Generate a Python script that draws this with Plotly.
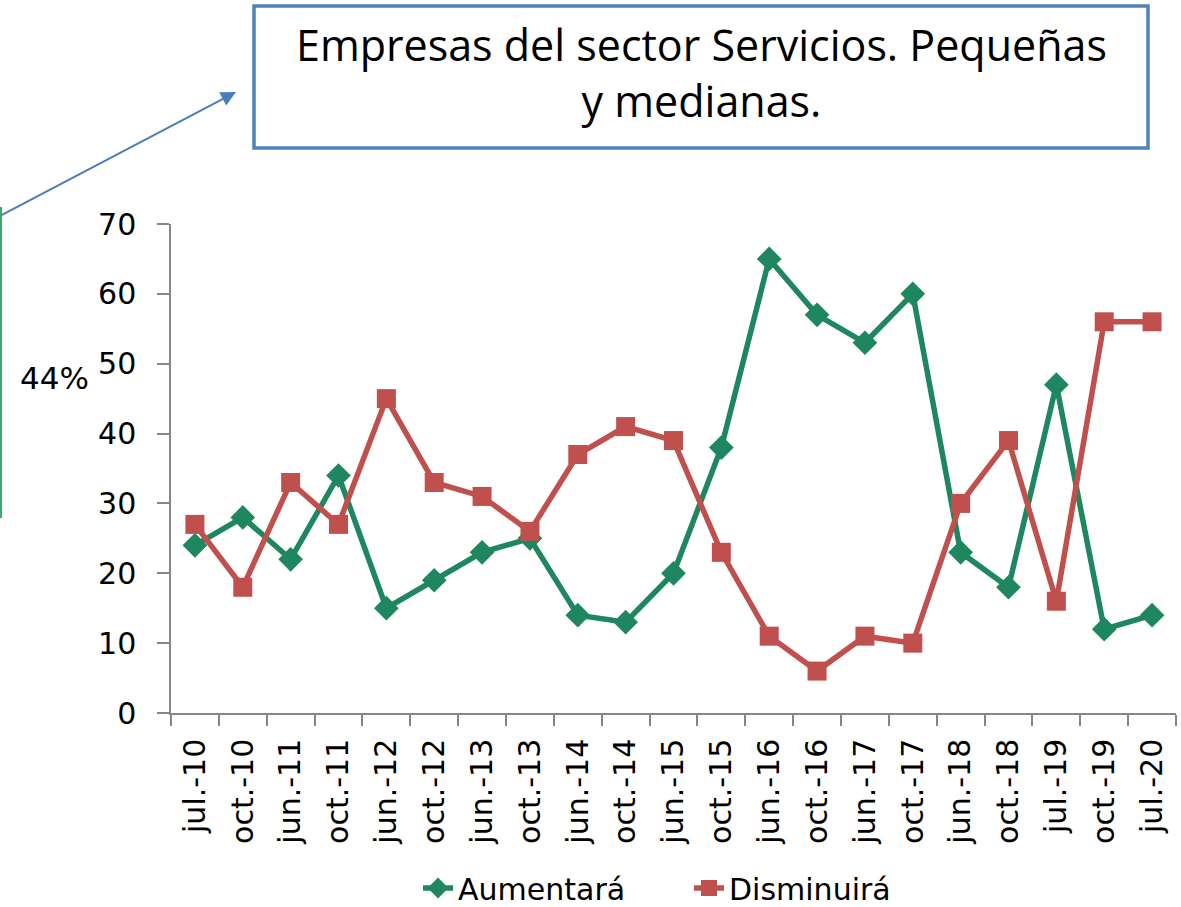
import plotly.graph_objects as go

categories = ["jul.-10", "oct.-10", "jun.-11", "oct.-11", "jun.-12", "oct.-12", "jun.-13",
              "oct.-13", "jun.-14", "oct.-14", "jun.-15", "oct.-15", "jun.-16", "oct.-16",
              "jun.-17", "oct.-17", "jun.-18", "oct.-18", "jul.-19", "oct.-19", "jul.-20"]
aumentara = [24, 28, 22, 34, 15, 19, 23, 25, 14, 13, 20, 38, 65, 57, 53, 60, 23, 18, 47, 12, 14]
disminuira = [27, 18, 33, 27, 45, 33, 31, 26, 37, 41, 39, 23, 11, 6, 11, 10, 30, 39, 16, 56, 56]
y_ticks = [0, 10, 20, 30, 40, 50, 60, 70]

title_text = "Empresas del sector Servicios. Pequeñas<br>y medianas."
side_label = "44%"

GREEN = "#1F8760"
RED = "#C0504D"
BLUE = "#4F81BD"
AXIS = "#868686"
FONT = "DejaVu Sans, sans-serif"
TITLE_FONT = "Open Sans, Noto Sans, sans-serif"

W, H = 1181, 907
L, R, T, B = 171, 1176, 224, 713


def px(x):
    return (x - L) / (R - L)


def py(y):
    return (B - y) / (B - T)


fig = go.Figure()
fig.add_trace(go.Scatter(
    x=categories, y=aumentara, name="Aumentará", mode="lines+markers",
    line=dict(color=GREEN, width=5.5),
    marker=dict(symbol="diamond", size=19, color=GREEN),
))
fig.add_trace(go.Scatter(
    x=categories, y=disminuira, name="Disminuirá", mode="lines+markers",
    line=dict(color=RED, width=5.5),
    marker=dict(symbol="square", size=19, color=RED),
))

fig.update_layout(
    width=W, height=H,
    margin=dict(l=L, r=W - R, t=T, b=H - B, pad=0, autoexpand=False),
    paper_bgcolor="white", plot_bgcolor="white",
    font=dict(family=FONT, size=30, color="black"),
    showlegend=True,
    legend=dict(orientation="h", x=px(418), y=py(888), xanchor="left", yanchor="middle",
                font=dict(size=30), entrywidth=226, entrywidthmode="pixels",
                tracegroupgap=0, bgcolor="rgba(0,0,0,0)"),
    xaxis=dict(
        type="category", showgrid=False, zeroline=False, automargin=False,
        showline=True, linecolor=AXIS, linewidth=1.5,
        ticks="outside", ticklen=11, tickcolor=AXIS, tickwidth=1.5,
        tickson="boundaries", tickangle=-90,
        tickfont=dict(size=30), ticklabelstandoff=12,
        range=[-0.5, len(categories) - 0.5],
    ),
    yaxis=dict(
        range=[0, 70], tickvals=y_ticks, showgrid=False, zeroline=False, automargin=False,
        showline=True, linecolor=AXIS, linewidth=1.5,
        ticks="outside", ticklen=12, tickcolor=AXIS, tickwidth=1.5,
        tickfont=dict(size=30), ticklabelstandoff=15,
    ),
)

# title box
fig.add_shape(type="rect", xref="paper", yref="paper",
              x0=px(254), x1=px(1148), y0=py(148), y1=py(6),
              line=dict(color=BLUE, width=3.5), fillcolor="white", layer="above")
fig.add_annotation(xref="paper", yref="paper", x=px(701), y=py(72),
                   xanchor="center", yanchor="middle", text=title_text, showarrow=False,
                   font=dict(size=43, family=TITLE_FONT, color="black"), align="center")

# arrow
fig.add_annotation(xref="paper", yref="paper", x=px(236), y=py(92),
                   ax=-240, ay=124, axref="pixel", ayref="pixel",
                   text="", showarrow=True, arrowhead=2, arrowsize=1.5, arrowwidth=2,
                   arrowcolor="#4A7EBB")

# green line at left edge
fig.add_shape(type="line", xref="paper", yref="paper",
              x0=px(1), x1=px(1), y0=py(207), y1=py(518),
              line=dict(color="#3DAA6A", width=2))

# 44% label
fig.add_annotation(xref="paper", yref="paper", x=px(18), y=py(378),
                   xanchor="left", yanchor="middle", text=side_label, showarrow=False,
                   font=dict(size=31, family=FONT, color="black"))

fig.write_html("out.html", config={"displayModeBar": False},
               post_script="document.body.style.margin='0';document.body.style.overflow='hidden';")
